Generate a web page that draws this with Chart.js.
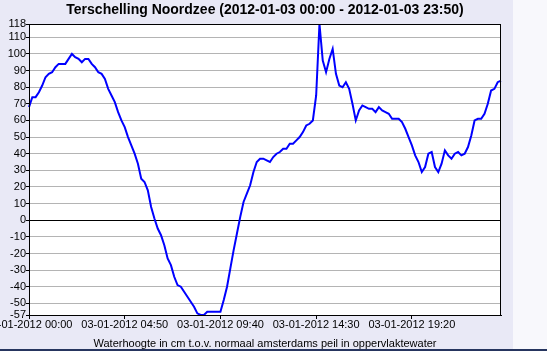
<!DOCTYPE html>
<html>
<head>
<meta charset="utf-8">
<script src="https://cdn.jsdelivr.net/npm/chart.js@4"></script>
<style>
  html, body { margin: 0; padding: 0; background: #ffffff; }
  #wrap { position: relative; width: 547px; height: 351px; overflow: hidden; }
  canvas { display: block; }
</style>
</head>
<body>
<div id="wrap"><canvas id="waterChart" width="547" height="351"></canvas></div>
<script>
// Waterhoogte Terschelling Noordzee, elke 10 minuten

const titleText = 'Terschelling Noordzee (2012-01-03 00:00 - 2012-01-03 23:50)';
const axisTitle = 'Waterhoogte in cm t.o.v. normaal amsterdams peil in oppervlaktewater';

const datePrefix = '03-01-2012';
const tickIndexes = [0, 29, 58, 87, 116];
const tickTimes = ['00:00', '04:50', '09:40', '14:30', '19:20'];

const yTicks = [-57, -50, -40, -30, -20, -10, 0, 10, 20, 30, 40, 50, 60, 70, 80, 90, 100, 110, 118];
const yMin = -57;
const yMax = 118;

const waterLevels = [
    68, 74, 74, 77, 81, 86, 88, 89, 92, 94, 94, 94,        // 00:00 - 01:50
    97, 100, 98, 97, 95, 97, 97, 94, 92, 89, 88, 85,       // 02:00 - 03:50
    79, 75, 71, 65, 60, 56, 50, 45, 40, 34, 25, 23,        // 04:00 - 05:50
    18, 8, 1, -5, -9, -15, -23, -27, -34, -39, -40, -43,   // 06:00 - 07:50
    -46, -49, -52, -56, -57, -57, -55, -55, -55, -55, -55, -48, // 08:00 - 09:50
    -40, -29, -18, -8, 2, 11, 16, 21, 29, 35, 37, 37,      // 10:00 - 11:50
    36, 35, 38, 40, 41, 43, 43, 46, 46, 48, 50, 53,        // 12:00 - 13:50
    57, 58, 60, 75, 118, 96, 89, 97, 103, 88, 81, 80,      // 14:00 - 15:50
    83, 79, 70, 60, 66, 69, 68, 67, 67, 65, 68, 66,        // 16:00 - 17:50
    65, 64, 61, 61, 61, 59, 55, 50, 45, 39, 35, 29,        // 18:00 - 19:50
    32, 40, 41, 32, 29, 34, 42, 39, 37, 40, 41, 39,        // 20:00 - 21:50
    40, 44, 51, 60, 61, 61, 64, 70, 78, 79, 83, 84         // 22:00 - 23:50
];

// tijdlabels 00:00 .. 23:50
const timeLabels = [];
for (let h = 0; h < 24; h++) {
    for (let m = 0; m < 60; m += 10) {
        timeLabels.push(String(h).padStart(2, '0') + ':' + String(m).padStart(2, '0'));
    }
}

const fontFamily = '"Liberation Sans", Arial, sans-serif';

// achtergrond en kader rond het plotgebied
const framePlugin = {
    id: 'frame',
    beforeDraw(chart) {
        const { ctx, chartArea: a, width, height } = chart;
        ctx.save();
        ctx.fillStyle = '#f8f8fc';
        ctx.fillRect(0, 0, width, height);
        ctx.fillStyle = '#e9e9f6';
        ctx.fillRect(0, 0, 513, height);
        ctx.fillStyle = '#26355f';
        ctx.fillRect(0, height - 2, width, 2);
        ctx.fillStyle = '#ffffff';
        ctx.fillRect(a.left, a.top, a.right - a.left, a.bottom - a.top);
        ctx.restore();
    },
    afterDraw(chart) {
        const { ctx, chartArea: a } = chart;
        ctx.save();
        ctx.strokeStyle = '#000000';
        ctx.lineWidth = 1;
        ctx.strokeRect(a.left + 0.5, a.top + 0.5, a.right - a.left - 1, a.bottom - a.top);
        ctx.restore();
    }
};

const ctx = document.getElementById('waterChart');
new Chart(ctx, {
    type: 'line',
    data: {
        labels: timeLabels,
        datasets: [{
            label: 'Waterhoogte',
            data: waterLevels,
            borderColor: '#0000ff',
            borderWidth: 2,
            pointRadius: 0,
            tension: 0,
            fill: false
        }]
    },
    options: {
        responsive: false,
        animation: false,
        devicePixelRatio: 1,
        layout: {
            padding: { left: 0, right: 46, top: 0, bottom: 0 }
        },
        plugins: {
            legend: { display: false },
            tooltip: { enabled: false },
            title: {
                display: true,
                fullSize: false,
                text: titleText,
                color: '#000000',
                font: { family: fontFamily, size: 14, weight: 'bold', lineHeight: 1.2 },
                padding: { top: 2, bottom: 5.2 }
            }
        },
        scales: {
            x: {
                offset: false,
                grid: {
                    drawOnChartArea: false,
                    drawTicks: true,
                    tickLength: 4,
                    tickColor: '#000000'
                },
                border: { display: true, color: '#000000' },
                ticks: {
                    autoSkip: false,
                    maxRotation: 0,
                    minRotation: 0,
                    padding: -1,
                    color: '#000000',
                    font: { family: fontFamily, size: 11 },
                    callback: function (value, index) {
                        const k = tickIndexes.indexOf(index);
                        return k >= 0 ? datePrefix + ' ' + tickTimes[k] : null;
                    }
                },
                title: {
                    display: true,
                    text: axisTitle,
                    color: '#000000',
                    font: { family: fontFamily, size: 11 },
                    padding: { top: 1, bottom: 0 }
                },
                afterFit: function (scale) {
                    scale.height = 36;
                    scale.paddingLeft = 0;
                    scale.paddingRight = 0;
                }
            },
            y: {
                min: yMin,
                max: yMax,
                grid: {
                    color: function (c) {
                        return c.tick && c.tick.value === 0 ? '#000000' : '#b4b4b4';
                    },
                    tickColor: '#000000',
                    tickLength: 3
                },
                border: { display: true, color: '#000000' },
                ticks: {
                    autoSkip: false,
                    padding: 0,
                    color: '#000000',
                    font: { family: fontFamily, size: 11 }
                },
                afterBuildTicks: function (scale) {
                    scale.ticks = yTicks.map(v => ({ value: v }));
                },
                afterFit: function (scale) {
                    scale.width = 29;
                    scale.paddingTop = 0;
                    scale.paddingBottom = 0;
                }
            }
        }
    },
    plugins: [framePlugin]
});
</script>
</body>
</html>
